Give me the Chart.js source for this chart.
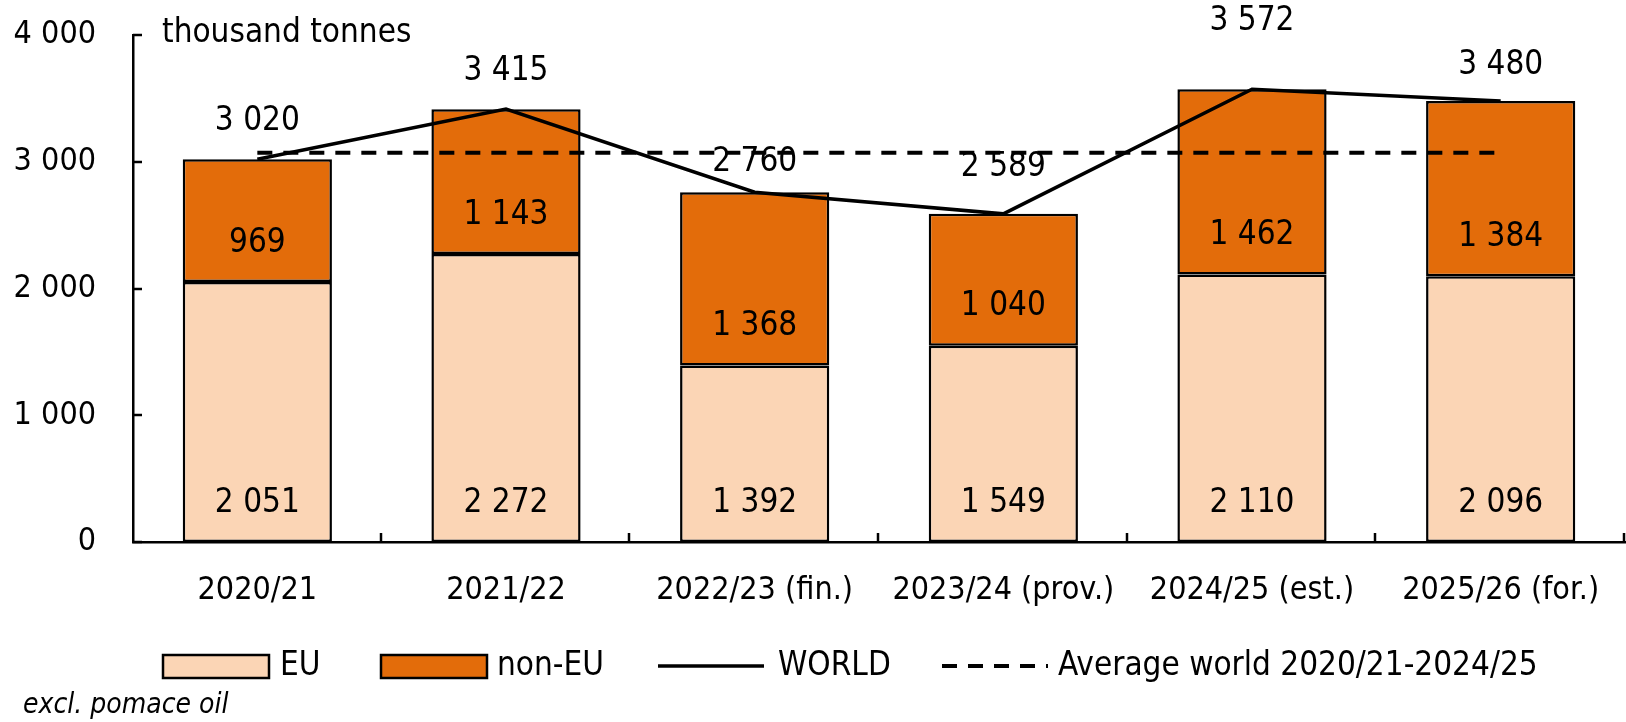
<!DOCTYPE html>
<html>
<head>
<meta charset="utf-8">
<script src="https://cdn.jsdelivr.net/npm/chart.js@4"></script>
<style>
  body { margin: 0; background: #fff; }
  #chart { display: block; }
</style>
</head>
<body>
<canvas id="chart" width="1626" height="722"></canvas>
<script>
// Data (thousand tonnes)
const seasons = ['2020/21', '2021/22', '2022/23 (fin.)', '2023/24 (prov.)', '2024/25 (est.)', '2025/26 (for.)'];
const euValues = [2051, 2272, 1392, 1549, 2110, 2096];
const nonEuValues = [969, 1143, 1368, 1040, 1462, 1384];
const worldValues = [3020, 3415, 2760, 2589, 3572, 3480];
const avgWorld = [3071, 3071, 3071, 3071, 3071, 3071];
const yTicks = [0, 1000, 2000, 3000, 4000];

const FONT = '"DejaVu Sans Condensed", "DejaVu Sans", sans-serif';
const FS = 33;
const EU_COLOR = '#FBD5B5';
const NONEU_COLOR = '#E36C0A';

function fmt(v) {
    return String(v).replace(/\B(?=(\d{3})+(?!\d))/g, ' ');
}

// labels, inward ticks, unit text, legend and note
const extrasPlugin = {
    id: 'extras',
    afterDatasetsDraw(chart) {
        const ctx = chart.ctx;
        ctx.save();
        ctx.fillStyle = '#000';
        ctx.font = FS + 'px ' + FONT;
        ctx.textAlign = 'center';
        ctx.textBaseline = 'middle';

        // bar labels, inside base
        [0, 1].forEach(di => {
            const meta = chart.getDatasetMeta(di);
            meta.data.forEach((bar, i) => {
                ctx.fillText(fmt(chart.data.datasets[di].data[i]), bar.x, bar.base - 39);
            });
        });

        // world totals above the line
        const offsets = [38, 38, 30, 46, 68, 35];
        chart.getDatasetMeta(2).data.forEach((pt, i) => {
            ctx.fillText(fmt(worldValues[i]), pt.x, pt.y - offsets[i]);
        });
        ctx.restore();
    },
    afterDraw(chart) {
        const ctx = chart.ctx;
        const area = chart.chartArea;
        const y = chart.scales.y;
        ctx.save();
        ctx.strokeStyle = '#000';
        ctx.lineWidth = 2.5;

        // inward ticks on y axis
        yTicks.forEach(v => {
            const py = Math.round(y.getPixelForValue(v));
            ctx.beginPath();
            ctx.moveTo(area.left, py);
            ctx.lineTo(area.left + 9, py);
            ctx.stroke();
        });
        // inward ticks on x axis at category boundaries
        const catW = (area.right - area.left) / seasons.length;
        for (let i = 1; i <= seasons.length; i++) {
            const px = Math.round(area.left + i * catW) - 1;
            ctx.beginPath();
            ctx.moveTo(px, area.bottom);
            ctx.lineTo(px, area.bottom - 9);
            ctx.stroke();
        }

        // unit
        ctx.fillStyle = '#000';
        ctx.font = FS + 'px ' + FONT;
        ctx.textAlign = 'left';
        ctx.textBaseline = 'middle';
        ctx.fillText('thousand tonnes', 162, 33);

        // legend
        const ly = 666;
        const items = [
            { type: 'box', color: EU_COLOR, label: 'EU', x: 163, tx: 280 },
            { type: 'box', color: NONEU_COLOR, label: 'non-EU', x: 381, tx: 497 },
            { type: 'line', dash: [], width: 3.5, label: 'WORLD', x: 658, tx: 778 },
            { type: 'line', dash: [15, 11], width: 4, label: 'Average world 2020/21-2024/25', x: 942, tx: 1058 }
        ];
        items.forEach(it => {
            if (it.type === 'box') {
                ctx.fillStyle = it.color;
                ctx.fillRect(it.x, ly - 11, 106, 23);
                ctx.lineWidth = 2.5;
                ctx.setLineDash([]);
                ctx.strokeRect(it.x, ly - 11, 106, 23);
            } else {
                ctx.lineWidth = it.width;
                ctx.setLineDash(it.dash);
                ctx.beginPath();
                ctx.moveTo(it.x, ly);
                ctx.lineTo(it.x + 106, ly);
                ctx.stroke();
                ctx.setLineDash([]);
            }
            ctx.fillStyle = '#000';
            ctx.fillText(it.label, it.tx, ly);
        });

        // note
        ctx.font = 'italic 28px ' + FONT;
        ctx.fillText('excl. pomace oil', 23, 706);
        ctx.restore();
    }
};

const ctx = document.getElementById('chart').getContext('2d');
new Chart(ctx, {
    data: {
        labels: seasons,
        datasets: [
            {
                type: 'bar',
                label: 'EU',
                data: euValues,
                backgroundColor: EU_COLOR,
                borderColor: '#000',
                borderWidth: 2.5,
                borderSkipped: false,
                stack: 's',
                order: 2
            },
            {
                type: 'bar',
                label: 'non-EU',
                data: nonEuValues,
                backgroundColor: NONEU_COLOR,
                borderColor: '#000',
                borderWidth: 2.5,
                borderSkipped: false,
                stack: 's',
                order: 3
            },
            {
                type: 'line',
                label: 'WORLD',
                data: worldValues,
                borderColor: '#000',
                borderWidth: 3.5,
                pointRadius: 0,
                tension: 0,
                stack: 'w',
                order: 1
            },
            {
                type: 'line',
                label: 'Average world 2020/21-2024/25',
                data: avgWorld,
                borderColor: '#000',
                borderWidth: 4,
                borderDash: [15, 11],
                pointRadius: 0,
                stack: 'a',
                order: 0
            }
        ]
    },
    options: {
        responsive: false,
        animation: false,
        devicePixelRatio: 1,
        layout: { padding: { top: 35, right: 1, left: 0, bottom: 0 } },
        datasets: { bar: { barPercentage: 0.6, categoryPercentage: 1 } },
        plugins: {
            legend: { display: false },
            tooltip: { enabled: false }
        },
        scales: {
            x: {
                stacked: true,
                grid: { display: false, drawTicks: false },
                border: { display: true, color: '#000', width: 2.5 },
                ticks: {
                    color: '#000',
                    font: { family: FONT, size: 32 },
                    padding: 29,
                    maxRotation: 0,
                    autoSkip: false
                },
                afterFit(scale) {
                    scale.height = 180;
                    scale.paddingLeft = 0;
                    scale.paddingRight = 0;
                }
            },
            y: {
                stacked: true,
                min: 0,
                max: 4000,
                grid: { display: false, drawTicks: false },
                border: { display: true, color: '#000', width: 2.5 },
                afterBuildTicks(scale) { scale.ticks = yTicks.map(v => ({ value: v })); },
                ticks: {
                    color: '#000',
                    font: { family: FONT, size: 32 },
                    padding: 37,
                    callback: v => fmt(v)
                },
                afterFit(scale) {
                    scale.width = 133;
                    scale.paddingTop = 0;
                    scale.paddingBottom = 0;
                }
            }
        }
    },
    plugins: [extrasPlugin]
});
</script>
</body>
</html>
